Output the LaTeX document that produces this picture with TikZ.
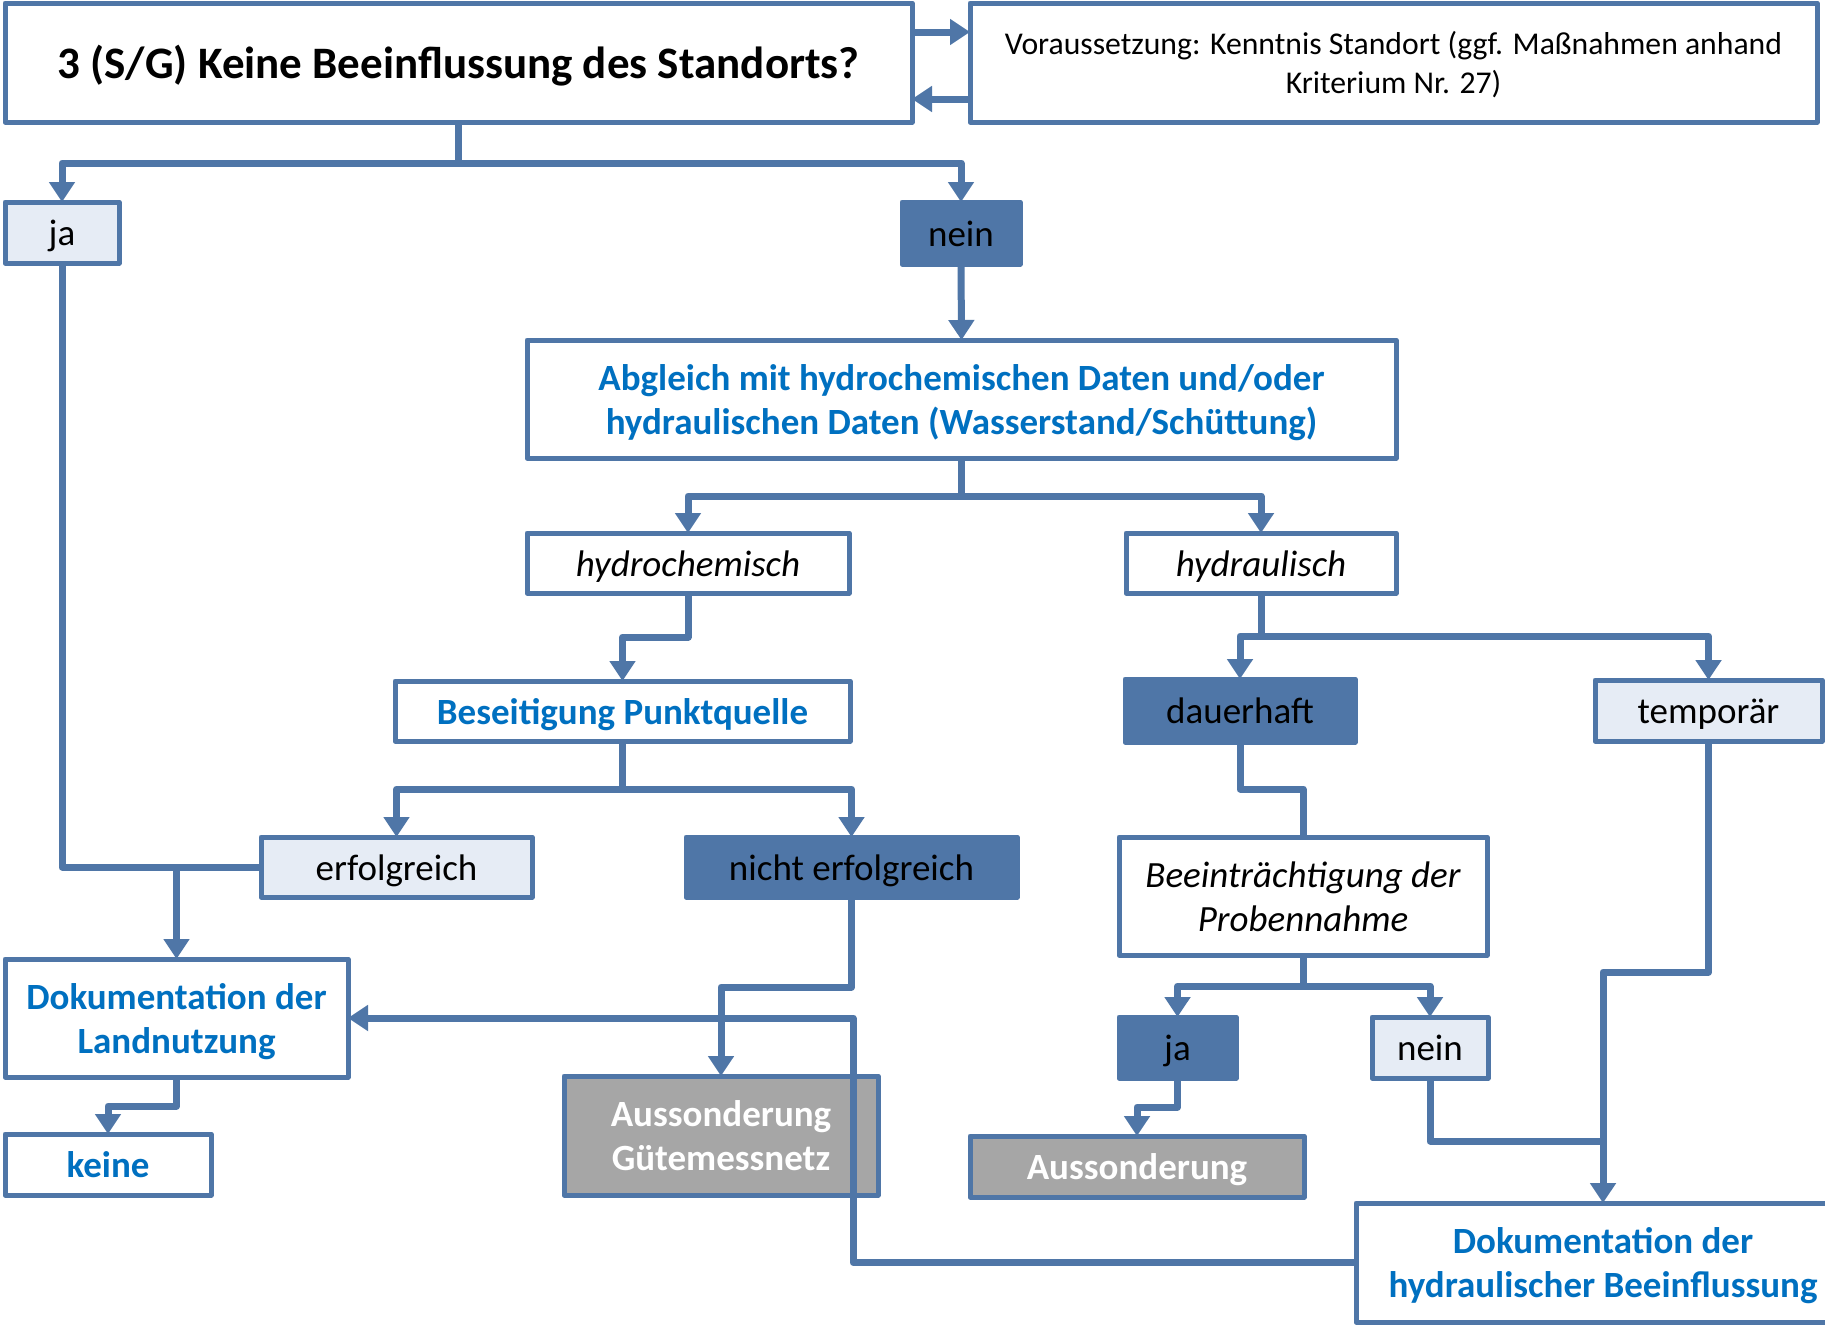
\documentclass[tikz,border=0pt]{standalone}
\usepackage{fontspec}
\setmainfont{Carlito}
\usetikzlibrary{arrows.meta}
\definecolor{lineblue}{HTML}{4F76A7}
\definecolor{lightfill}{HTML}{E6ECF5}
\definecolor{txtblue}{HTML}{0070C0}
\definecolor{grayfill}{HTML}{A6A6A6}
\tikzset{
  box/.style={draw=lineblue, line width=5pt, line join=round, inner sep=0pt, outer sep=0pt, align=center, text=black, fill=white,
    font=\fontsize{37}{44}\selectfont, text height=26pt, text depth=0pt},
  two/.style={text height=70pt, text depth=0pt},
  lightbox/.style={box, fill=lightfill},
  darkbox/.style={box, fill=lineblue},
  graybox/.style={box, fill=grayfill, text=white, font=\fontsize{37}{44}\selectfont\bfseries},
  bluebox/.style={box, text=txtblue, font=\fontsize{37}{44}\selectfont\bfseries},
  itbox/.style={box, font=\fontsize{37}{44}\selectfont\itshape},
  conn/.style={draw=lineblue, line width=7pt, line join=round},
  arr/.style={conn, -{Triangle[width=25pt,length=20pt]}},
}
\begin{document}
\begin{tikzpicture}[x=1pt,y=-1pt]
\useasboundingbox (0,0) rectangle (1825,1325);
\fill[white] (0,0) rectangle (1825,1325);
% boxes
\node[box, minimum width=907pt, minimum height=119pt, font=\fontsize{45}{54}\selectfont\bfseries, text height=31pt] (title) at (458.5,62.5) {3 (S/G) Keine Beeinflussung des Standorts?};
\node[box, minimum width=847pt, minimum height=119pt, font=\fontsize{31.7}{38.5}\selectfont, text height=61pt, text depth=0pt] (vor) at (1393.5,62.5) {Voraussetzung: Kenntnis Standort (ggf. Maßnahmen anhand\\Kriterium Nr. 27)};
\node[lightbox, minimum width=114pt, minimum height=61pt] (ja) at (62,232.5) {ja};
\node[darkbox, minimum width=118pt, minimum height=62pt] (nein) at (961,233) {nein};
\node[bluebox, two, minimum width=869pt, minimum height=118pt] (abgleich) at (961.5,399) {Abgleich mit hydrochemischen Daten und/oder\\hydraulischen Daten (Wasserstand/Schüttung)};
\node[itbox, minimum width=322pt, minimum height=60pt] (hydrochem) at (688,563) {hydrochemisch};
\node[itbox, minimum width=270pt, minimum height=60pt] (hydraul) at (1261,563) {hydraulisch};
\node[bluebox, minimum width=455pt, minimum height=60pt] (beseitigung) at (622.5,711) {Beseitigung Punktquelle};
\node[darkbox, minimum width=230pt, minimum height=63pt] (dauerhaft) at (1240,710.5) {dauerhaft};
\node[lightbox, minimum width=227pt, minimum height=61pt] (temporaer) at (1708.5,710.5) {temporär};
\node[lightbox, minimum width=271pt, minimum height=60pt] (erfolgreich) at (396.5,867) {erfolgreich};
\node[darkbox, minimum width=331pt, minimum height=60pt] (nichterf) at (851.5,867) {nicht erfolgreich};
\node[itbox, two, minimum width=368pt, minimum height=118pt] (beein) at (1303,896) {Beeinträchtigung der\\Probennahme};
\node[bluebox, two, minimum width=343pt, minimum height=118pt] (doklan) at (176.5,1018) {Dokumentation der\\Landnutzung};
\node[bluebox, minimum width=206pt, minimum height=61pt] (keine) at (108,1164.5) {keine};
\node[graybox, two, minimum width=314pt, minimum height=119pt] (ausgute) at (721,1135.5) {Aussonderung\\Gütemessnetz};
\node[darkbox, minimum width=117pt, minimum height=61pt] (ja2) at (1177.5,1047.5) {ja};
\node[lightbox, minimum width=116pt, minimum height=61pt] (nein2) at (1430,1047.5) {nein};
\node[graybox, minimum width=334pt, minimum height=61pt] (aus2) at (1137,1166.5) {Aussonderung};
\node[bluebox, two, minimum width=494pt, minimum height=119pt] (dokhyd) at (1603,1262.5) {Dokumentation der\\hydraulischer Beeinflussung};
% connectors
\draw[arr] (title.east |- 0,32) -- (vor.west |- 0,32);
\draw[arr] (vor.west |- 0,99) -- (title.east |- 0,99);
\draw[arr] (title.south) -- ++(0,41) -| (ja.north);
\draw[arr] (title.south) -- ++(0,41) -| (nein.north);
\draw[arr] (nein.south) -- (abgleich.north);
\draw[arr] (abgleich.south) -- ++(0,38) -| (hydrochem.north);
\draw[arr] (abgleich.south) -- ++(0,38) -| (hydraul.north);
\draw[arr] (hydrochem.south) -- ++(0,44) -| (beseitigung.north);
\draw[arr] (beseitigung.south) -- ++(0,48) -| (erfolgreich.north);
\draw[arr] (beseitigung.south) -- ++(0,48) -| (nichterf.north);
\draw[arr] (hydraul.south) -- ++(0,43) -| (dauerhaft.north);
\draw[arr] (hydraul.south) -- ++(0,43) -| (temporaer.north);
\draw[conn] (dauerhaft.south) -- ++(0,47) -| (beein.north);
\draw[arr] (beein.south) -- ++(0,31) -| (ja2.north);
\draw[arr] (beein.south) -- ++(0,31) -| (nein2.north);
\draw[arr] (ja2.south) -- ++(0,29) -| (aus2.north);
\draw[arr] (nichterf.south) -- ++(0,90) -| (ausgute.north);
\draw[arr] (doklan.south) -- ++(0,29) -| (keine.north);
\draw[conn] (ja.south) |- (doklan.north |- erfolgreich.west);
\draw[arr] (erfolgreich.west) -| (doklan.north);
\draw[arr] (temporaer.south) -- ++(0,231) -| (dokhyd.north);
\draw[conn] (nein2.south) |- (dokhyd.north |- 0,1141);
\draw[arr] (dokhyd.west) -| (853,1018) -- (doklan.east);
\end{tikzpicture}
\end{document}
